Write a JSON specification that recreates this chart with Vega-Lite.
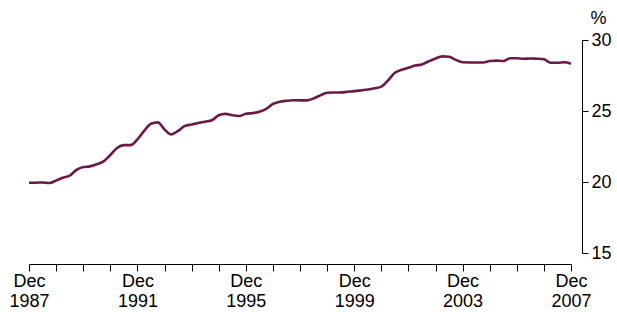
{
  "$schema": "https://vega.github.io/schema/vega-lite/v6.json",
  "autosize": "none",
  "width": 542,
  "height": 213,
  "padding": {"left": 29, "top": 40, "right": 46, "bottom": 59},
  "background": "white",
  "config": {"view": {"stroke": null}, "font": "Liberation Sans"},
  "data": {"values": [
    {"date": "1987-12-01", "v": 19.95},
    {"date": "1988-03-01", "v": 19.95},
    {"date": "1988-06-01", "v": 19.97},
    {"date": "1988-09-01", "v": 19.93},
    {"date": "1988-12-01", "v": 20.1},
    {"date": "1989-03-01", "v": 20.3},
    {"date": "1989-06-01", "v": 20.45},
    {"date": "1989-09-01", "v": 20.85},
    {"date": "1989-12-01", "v": 21.05},
    {"date": "1990-03-01", "v": 21.1},
    {"date": "1990-06-01", "v": 21.25},
    {"date": "1990-09-01", "v": 21.45},
    {"date": "1990-12-01", "v": 21.9},
    {"date": "1991-03-01", "v": 22.4},
    {"date": "1991-06-01", "v": 22.6},
    {"date": "1991-09-01", "v": 22.6},
    {"date": "1991-12-01", "v": 23.0},
    {"date": "1992-03-01", "v": 23.6},
    {"date": "1992-06-01", "v": 24.1},
    {"date": "1992-09-01", "v": 24.2},
    {"date": "1992-12-01", "v": 23.7},
    {"date": "1993-03-01", "v": 23.35},
    {"date": "1993-06-01", "v": 23.6},
    {"date": "1993-09-01", "v": 23.95},
    {"date": "1993-12-01", "v": 24.05},
    {"date": "1994-03-01", "v": 24.15},
    {"date": "1994-06-01", "v": 24.25},
    {"date": "1994-09-01", "v": 24.35},
    {"date": "1994-12-01", "v": 24.7},
    {"date": "1995-03-01", "v": 24.8},
    {"date": "1995-06-01", "v": 24.7},
    {"date": "1995-09-01", "v": 24.65},
    {"date": "1995-12-01", "v": 24.8},
    {"date": "1996-03-01", "v": 24.85},
    {"date": "1996-06-01", "v": 24.95},
    {"date": "1996-09-01", "v": 25.15},
    {"date": "1996-12-01", "v": 25.5},
    {"date": "1997-03-01", "v": 25.65},
    {"date": "1997-06-01", "v": 25.72},
    {"date": "1997-09-01", "v": 25.76},
    {"date": "1997-12-01", "v": 25.75},
    {"date": "1998-03-01", "v": 25.75},
    {"date": "1998-06-01", "v": 25.88},
    {"date": "1998-09-01", "v": 26.1},
    {"date": "1998-12-01", "v": 26.28},
    {"date": "1999-03-01", "v": 26.3},
    {"date": "1999-06-01", "v": 26.3},
    {"date": "1999-09-01", "v": 26.35},
    {"date": "1999-12-01", "v": 26.4},
    {"date": "2000-03-01", "v": 26.45},
    {"date": "2000-06-01", "v": 26.52},
    {"date": "2000-09-01", "v": 26.6},
    {"date": "2000-12-01", "v": 26.72},
    {"date": "2001-03-01", "v": 27.15},
    {"date": "2001-06-01", "v": 27.7},
    {"date": "2001-09-01", "v": 27.9},
    {"date": "2001-12-01", "v": 28.05},
    {"date": "2002-03-01", "v": 28.2},
    {"date": "2002-06-01", "v": 28.28},
    {"date": "2002-09-01", "v": 28.5},
    {"date": "2002-12-01", "v": 28.7},
    {"date": "2003-03-01", "v": 28.85},
    {"date": "2003-06-01", "v": 28.82},
    {"date": "2003-09-01", "v": 28.6},
    {"date": "2003-12-01", "v": 28.43},
    {"date": "2004-03-01", "v": 28.42},
    {"date": "2004-06-01", "v": 28.42},
    {"date": "2004-09-01", "v": 28.42},
    {"date": "2004-12-01", "v": 28.52},
    {"date": "2005-03-01", "v": 28.55},
    {"date": "2005-06-01", "v": 28.52},
    {"date": "2005-09-01", "v": 28.72},
    {"date": "2005-12-01", "v": 28.72},
    {"date": "2006-03-01", "v": 28.68},
    {"date": "2006-06-01", "v": 28.7},
    {"date": "2006-09-01", "v": 28.68},
    {"date": "2006-12-01", "v": 28.65},
    {"date": "2007-03-01", "v": 28.4},
    {"date": "2007-06-01", "v": 28.4},
    {"date": "2007-09-01", "v": 28.43},
    {"date": "2007-12-01", "v": 28.33}
  ]},
  "mark": {"type": "line", "color": "#6b1a45", "strokeWidth": 2.6, "interpolate": "monotone"},
  "encoding": {
    "x": {
      "field": "date", "type": "temporal",
      "scale": {"type": "utc", "domain": [{"year": 1987, "month": 12, "date": 1, "utc": true}, {"year": 2007, "month": 12, "date": 1, "utc": true}]},
      "axis": {
        "title": null, "grid": false, "offset": 11,
        "values": [
          {"year": 1987, "month": 12, "date": 1, "utc": true},
          {"year": 1988, "month": 12, "date": 1, "utc": true},
          {"year": 1989, "month": 12, "date": 1, "utc": true},
          {"year": 1990, "month": 12, "date": 1, "utc": true},
          {"year": 1991, "month": 12, "date": 1, "utc": true},
          {"year": 1992, "month": 12, "date": 1, "utc": true},
          {"year": 1993, "month": 12, "date": 1, "utc": true},
          {"year": 1994, "month": 12, "date": 1, "utc": true},
          {"year": 1995, "month": 12, "date": 1, "utc": true},
          {"year": 1996, "month": 12, "date": 1, "utc": true},
          {"year": 1997, "month": 12, "date": 1, "utc": true},
          {"year": 1998, "month": 12, "date": 1, "utc": true},
          {"year": 1999, "month": 12, "date": 1, "utc": true},
          {"year": 2000, "month": 12, "date": 1, "utc": true},
          {"year": 2001, "month": 12, "date": 1, "utc": true},
          {"year": 2002, "month": 12, "date": 1, "utc": true},
          {"year": 2003, "month": 12, "date": 1, "utc": true},
          {"year": 2004, "month": 12, "date": 1, "utc": true},
          {"year": 2005, "month": 12, "date": 1, "utc": true},
          {"year": 2006, "month": 12, "date": 1, "utc": true},
          {"year": 2007, "month": 12, "date": 1, "utc": true}
        ],
        "labelExpr": "utcyear(datum.value) % 4 == 3 ? ['Dec', '' + utcyear(datum.value)] : ''",
        "labelFontSize": 18, "labelColor": "#000000", "labelLineHeight": 20,
        "labelPadding": 1, "labelOverlap": false, "labelFlush": false,
        "tickSize": 7, "tickColor": "#000000", "domainColor": "#000000",
        "tickWidth": 1, "domainWidth": 1
      }
    },
    "y": {
      "field": "v", "type": "quantitative",
      "scale": {"domain": [15, 30], "nice": false, "zero": false},
      "axis": {
        "orient": "right", "grid": false, "offset": 11,
        "values": [15, 20, 25, 30],
        "title": "%", "titleAngle": 0, "titleX": 16, "titleY": -22,
        "titleAlign": "center", "titleBaseline": "middle",
        "titleFontSize": 18, "titleFontWeight": "normal", "titleColor": "#000000",
        "labelFontSize": 18, "labelColor": "#000000", "labelPadding": 3,
        "tickSize": 6, "tickColor": "#000000", "domainColor": "#000000"
      }
    }
  }
}
